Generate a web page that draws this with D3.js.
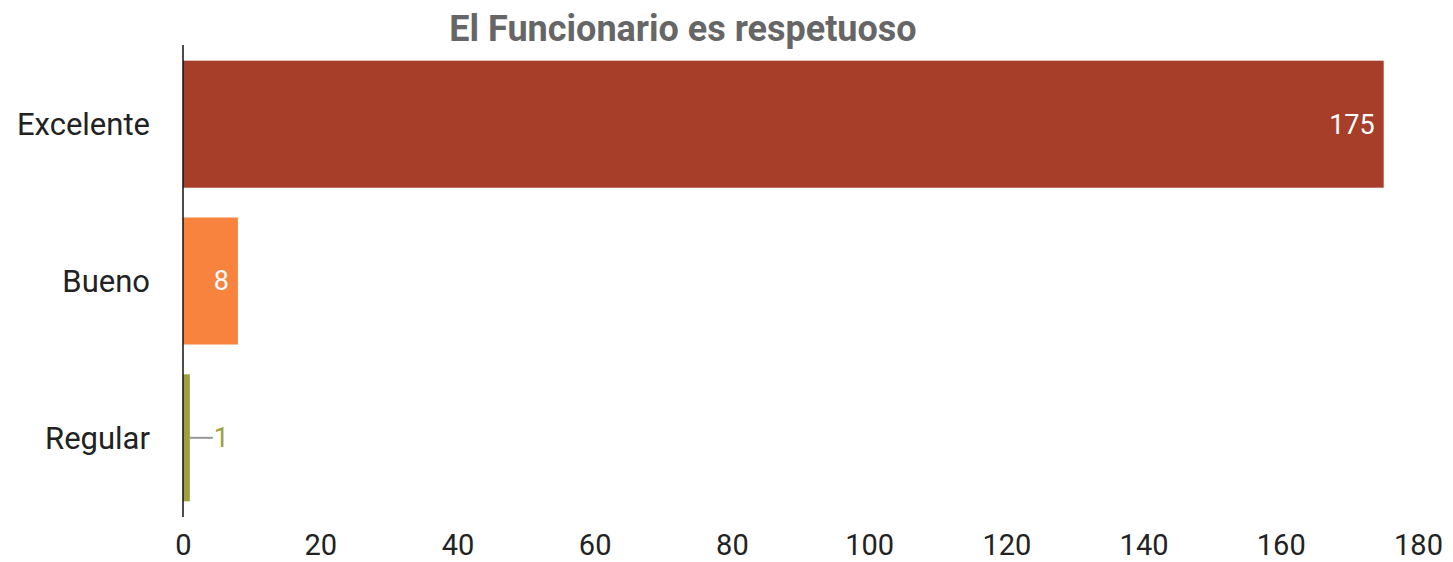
<!DOCTYPE html>
<html>
<head>
<meta charset="utf-8">
<style>
  body { margin: 0; background: #fff; }
  text { font-family: Roboto, "Noto Sans", sans-serif; }
</style>
</head>
<body>
<div id="vizDiv"></div>
<script src="https://cdnjs.cloudflare.com/ajax/libs/d3/7.8.5/d3.min.js"></script>
<script>
// data
const categories = ["Excelente", "Bueno", "Regular"];
const values = [175, 8, 1];
const colors = ["#A63E2A", "#F7833F", "#9EA03E"];
const xTicks = [0, 20, 40, 60, 80, 100, 120, 140, 160, 180];
const title = "El Funcionario es respetuoso";

const W = 1453, H = 562;
const margin = { top: 45, right: 35, bottom: 45, left: 183 };

const svg = d3.select("#vizDiv")
  .append("svg")
  .attr("width", W)
  .attr("height", H);

const x = d3.scaleLinear()
  .domain([0, 180])
  .range([margin.left, margin.left + 1235]);

const y = d3.scaleBand()
  .domain(categories)
  .range([margin.top, H - margin.bottom])
  .paddingInner(0.19)
  .paddingOuter(0.1);

// title
svg.append("text")
  .attr("x", 683)
  .attr("y", 41)
  .attr("text-anchor", "middle")
  .style("font-size", "36px")
  .style("font-weight", "bold")
  .style("fill", "#666")
  .text(title);

const data = categories.map((c, i) => ({ cat: c, val: values[i], color: colors[i] }));

// bars
svg.selectAll("rect.bar")
  .data(data)
  .enter()
  .append("rect")
  .attr("class", "bar")
  .attr("x", x(0))
  .attr("y", d => y(d.cat))
  .attr("width", d => x(d.val) - x(0))
  .attr("height", y.bandwidth())
  .style("fill", d => d.color);

// value labels: inside for big bars, outside with leader for tiny ones
data.forEach(d => {
  const cy = y(d.cat) + y.bandwidth() / 2;
  const w = x(d.val) - x(0);
  if (w > 30) {
    svg.append("text")
      .attr("x", x(d.val) - 9)
      .attr("y", cy)
      .attr("dy", "0.35em")
      .attr("text-anchor", "end")
      .style("font-size", "27px")
      .style("fill", "#fff")
      .text(d.val);
  } else {
    svg.append("line")
      .attr("x1", x(d.val))
      .attr("x2", x(d.val) + 23)
      .attr("y1", cy)
      .attr("y2", cy)
      .style("stroke", "#999")
      .style("stroke-width", 2);
    svg.append("text")
      .attr("x", x(d.val) + 24)
      .attr("y", cy)
      .attr("dy", "0.35em")
      .style("font-size", "27px")
      .style("fill", d.color)
      .text(d.val);
  }
});

// category labels
svg.selectAll("text.cat")
  .data(categories)
  .enter()
  .append("text")
  .attr("class", "cat")
  .attr("x", 150)
  .attr("y", d => y(d) + y.bandwidth() / 2)
  .attr("dy", "0.35em")
  .attr("text-anchor", "end")
  .style("font-size", "31px")
  .style("fill", "#222")
  .text(d => d);

// x axis tick labels
const xAxis = d3.axisBottom(x).tickValues(xTicks).tickSize(0).tickPadding(0);
const gx = svg.append("g")
  .attr("transform", `translate(0, ${H - margin.bottom + 17})`)
  .call(xAxis);
gx.select(".domain").remove();
gx.selectAll("text")
  .attr("dy", "0.71em")
  .style("font-family", "Roboto, 'Noto Sans', sans-serif")
  .style("font-size", "29px")
  .style("fill", "#222");

// y axis line
svg.append("line")
  .attr("x1", x(0))
  .attr("x2", x(0))
  .attr("y1", margin.top)
  .attr("y2", H - margin.bottom)
  .style("stroke", "#111")
  .style("stroke-width", 1.5);
</script>
</body>
</html>
